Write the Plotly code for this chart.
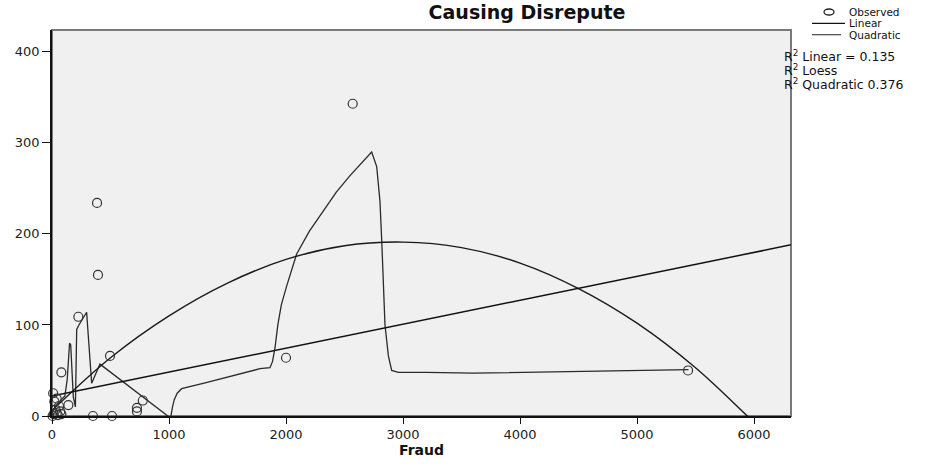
import plotly.graph_objects as go

# ---- data ----
obs_x = [2570, 385, 393, 225, 496, 2000, 5436, 80, 776, 726, 726, 350, 513,
         10, 40, 20, 60, 140, 30, 70, 40, 15, 80, 5, 50]
obs_y = [343, 234, 155, 109, 66, 64, 50, 48, 17, 9, 5, 0, 0,
         25, 19, 16, 11, 12, 7, 5, 3, 2, 2, 0, 1]

linear_x = [0, 6316]
linear_y = [22, 188]

quad_x = [0, 500, 1000, 1500, 2000, 2500, 3000, 3500, 4000, 4500, 5000, 5500, 6000, 6316]
quad_y = [6, 64, 110, 146, 172, 187, 191, 185, 168, 140, 102, 53, -7, -45]

loess_x = [5, 40, 80, 110, 130, 150, 160, 182, 200, 211, 230, 280, 296, 339, 360, 410,
           1000, 1015, 1030, 1045, 1070, 1108, 1300, 1550, 1778, 1863, 1885, 1906, 1930,
           1960, 2006, 2091, 2200, 2318, 2430, 2547, 2650, 2732, 2775, 2803, 2818, 2846,
           2875, 2903, 2960, 3200, 3600, 4000, 4500, 5000, 5440]
loess_y = [5, 12, 18, 22, 40, 80, 78, 21, 10, 95, 100, 110, 114, 36, 42, 57,
           -1, -1, 10, 18, 25, 30, 36, 44, 52, 53, 60, 75, 100,
           122, 143, 178, 203, 225, 246, 264, 278, 290, 274, 236, 193, 100,
           66, 50, 48, 48, 47, 48, 49, 50, 51]

x_ticks = [0, 1000, 2000, 3000, 4000, 5000, 6000]
y_ticks = [0, 100, 200, 300, 400]

title_text = "Causing Disrepute"
x_title = "Fraud"
legend_labels = ["Observed", "Linear", "Quadratic"]
r2_labels = ["R<sup>2</sup> Linear = 0.135", "R<sup>2</sup> Loess", "R<sup>2</sup> Quadratic 0.376"]

FONT = "DejaVu Sans"

fig = go.Figure()
fig.add_trace(go.Scatter(x=loess_x, y=loess_y, mode="lines",
                         line=dict(color="#2a2a2a", width=1.3), showlegend=False))
fig.add_trace(go.Scatter(x=quad_x, y=quad_y, mode="lines", line_shape="spline",
                         line=dict(color="#1a1a1a", width=1.4), showlegend=False))
fig.add_trace(go.Scatter(x=linear_x, y=linear_y, mode="lines",
                         line=dict(color="#111111", width=1.5), showlegend=False))
fig.add_trace(go.Scatter(x=obs_x, y=obs_y, mode="markers", cliponaxis=False,
                         marker=dict(symbol="circle-open", size=9,
                                     color="#333333", line=dict(width=1.2)),
                         showlegend=False))

L, R, T, B = 52, 156, 30, 28
W, H = 947, 466
pw, ph = W - L - R, H - T - B


def px_x(px):
    return (px - L) / pw


def px_y(py):
    return (H - B - py) / ph


shapes = [dict(type="rect", xref="paper", yref="paper", x0=0, x1=1, y0=0, y1=1,
               line=dict(color="#7a7a7a", width=2), layer="below")]
# legend symbols
shapes.append(dict(type="circle", xref="paper", yref="paper", xsizemode="pixel",
                   ysizemode="pixel", xanchor=px_x(829), yanchor=px_y(11),
                   x0=-5, x1=5, y0=-3, y1=3, line=dict(color="#222", width=1.3)))
shapes.append(dict(type="line", xref="paper", yref="paper", x0=px_x(812), x1=px_x(845),
                   y0=px_y(23), y1=px_y(23), line=dict(color="#111", width=1.3)))
shapes.append(dict(type="line", xref="paper", yref="paper", x0=px_x(812), x1=px_x(841),
                   y0=px_y(35), y1=px_y(35), line=dict(color="#333", width=1.1)))

annotations = []
for lbl, py in zip(legend_labels, [11, 23, 35]):
    annotations.append(dict(text=lbl, xref="paper", yref="paper", x=px_x(847), y=px_y(py),
                            xanchor="left", yanchor="middle", showarrow=False,
                            font=dict(family=FONT, size=10.5, color="#111")))
for lbl, py in zip(r2_labels, [57, 72, 87]):
    annotations.append(dict(text=lbl, xref="paper", yref="paper", x=px_x(782), y=px_y(py),
                            xanchor="left", yanchor="middle", showarrow=False,
                            font=dict(family=FONT, size=12.5, color="#111")))

fig.update_layout(
    width=W, height=H,
    margin=dict(l=L, r=R, t=T, b=B),
    paper_bgcolor="white", plot_bgcolor="#f0f0f0",
    title=dict(text=f"<b>{title_text}</b>", x=527 / W, xanchor="center",
               y=1 - 12 / H, yanchor="middle",
               font=dict(family=FONT, size=19, color="#111")),
    shapes=shapes, annotations=annotations,
    xaxis=dict(range=[0, 6316], tickvals=x_ticks, ticks="outside", ticklen=6,
               tickcolor="#111", showgrid=False, zeroline=False, showline=True,
               linecolor="#111", linewidth=1.5,
               tickfont=dict(family=FONT, size=13, color="#222"),
               title=dict(text=f"<b>{x_title}</b>", standoff=2,
                          font=dict(family=FONT, size=14, color="#111"))),
    yaxis=dict(range=[0, 424], tickvals=y_ticks, ticks="outside", ticklen=8,
               tickcolor="#111", showgrid=False, zeroline=False, showline=True,
               linecolor="#111", linewidth=1.5,
               tickfont=dict(family=FONT, size=13, color="#222")),
)

fig.write_html("out.html", post_script="document.body.style.margin='0';",
               config={"displayModeBar": False})
